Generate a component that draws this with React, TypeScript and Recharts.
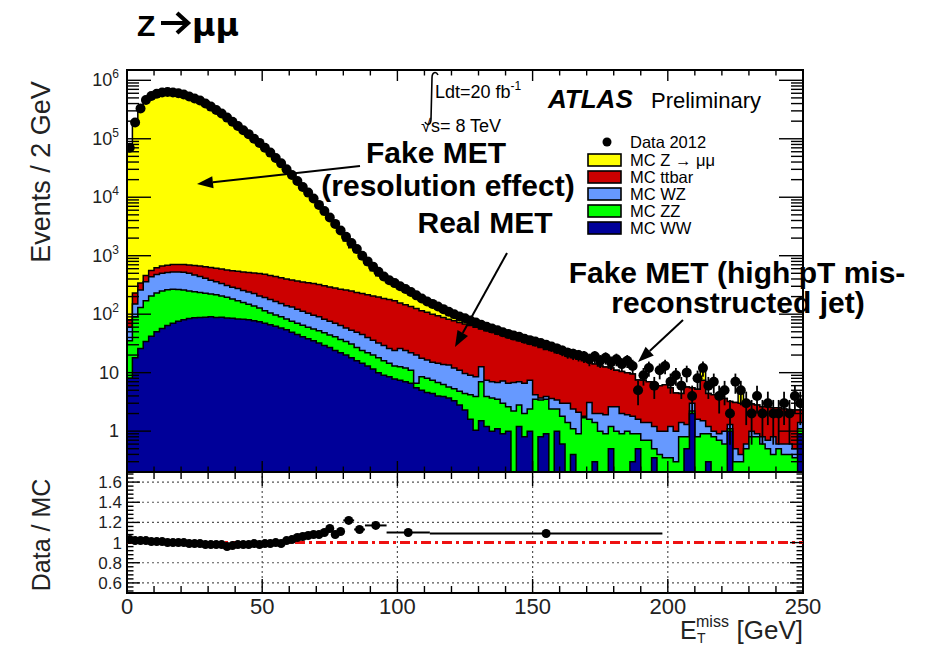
import React from 'react';
import {
  ComposedChart, Area, Scatter, XAxis, YAxis, ErrorBar, ReferenceLine, ReferenceArea,
} from 'recharts';

/* ───────── Data: events / 2 GeV, bins 0-2, 2-4, … 248-250 GeV ───────── */

const BIN_WIDTH = 2;

const mcWW = [
  8, 18, 26, 34, 42, 50, 57, 64, 70, 76, 80, 84, 87, 88, 89, 90, 88, 89, 86, 85,
  83, 82, 80, 77, 74, 70, 66, 62, 58, 54, 49, 45, 41, 38, 35, 32, 29, 27, 24, 22,
  20, 18, 16, 14.5, 13, 11.5, 10, 9, 8.5, 7.8,
  7.4, 7.0, 6.6, 5.5, 5.0, 4.6, 4.4, 4.0, 3.9, 3.7,
  3.3, 2.8, 2.3, 1.6, 1.04, 1.5, 1.2, 1.0, 1.1, 0.9,
  1.0, 0, 1.2, 0.8, 1.0, 0, 0.8, 0.9, 0, 1.0,
  0.6, 0, 0.4, 0, 0, 0, 0.3, 0, 0, 0.5,
  0, 0, 0, 0.3, 0.5, 0, 0, 0.35, 0, 0,
  0, 0, 0, 0.5, 2.0, 0, 0, 0.3, 0, 0,
  0, 1.0, 0, 0, 0, 0, 0, 0, 0, 0,
  0, 0, 0, 0, 0.9,
];

const mcZZ = [
  27, 72, 104, 136, 163, 180, 193, 198, 196, 189, 180, 166, 155, 148, 139, 132, 126, 116, 109, 97,
  87, 76, 68, 61, 54, 45, 39, 35, 32, 29, 27, 25, 24, 22, 21, 20, 19, 17, 17, 15,
  14, 13, 11, 9.5, 9, 8.5, 8, 7, 6, 5.2,
  5.2, 5.0, 4.4, 1.1, 3.5, 3.4, 3.0, 2.8, 2.4, 2.0,
  2.0, 2.0, 2.1, 2.6, 2.86, 5.5, 2.7, 2.7, 2.4, 2.1,
  1.6, 2.2, 1.6, 1.2, 1.4, 3.5, 2.6, 2.6, 2.4, 1.4,
  1.2, 1.4, 0.7, 0.9, 1.7, 1.6, 1.1, 1.0, 0.9, 0.7,
  1.0, 0.9, 1.0, 0.6, 0.4, 0.7, 0.7, 0.15, 0.4, 0.35,
  0.35, 0.3, 0.8, 0.3, 0.2, 0.8, 0.9, 0.6, 0.8, 0.7,
  0.6, 0.1, 0.3, 0.3, 0.5, 0.8, 0.8, 0.6, 0.5, 0.4,
  0.5, 0.4, 0.4, 0.35, 0.2,
];

const mcWZ = [
  25, 60, 130, 190, 230, 245, 250, 253, 259, 260, 260, 250, 228, 204, 182, 158, 146, 130, 115, 108,
  105, 97, 92, 87, 77, 77, 73, 68, 62, 57, 57, 52, 47, 44, 40, 38, 34, 32, 29, 27,
  24, 22, 22, 21, 18, 16, 14, 13, 11.5, 11,
  13.4, 12, 11, 13.4, 9.2, 8.5, 7.6, 7.7, 7.5, 7.8,
  6.7, 6.2, 5.3, 4.8, 4.6, 5.6, 3.5, 3.3, 3.3, 4.2,
  4.0, 4.6, 4.2, 4.6, 5.0, 0.7, 0.3, 0.4, 1.2, 1.0,
  1.2, 1.6, 1.3, 1.2, 0.1, 1.5, 0.6, 1.0, 1.0, 1.4,
  1.6, 1.1, 0.9, 0.9, 0.7, 0.7, 0.7, 0.7, 0.6, 0.65,
  0.85, 0.7, 0.6, 0.5, 0.8, 0.8, 0.6, 0.3, 0.2, 0.2,
  0.4, 0.2, 0.2, 0.1, 0.1, 0.2, 0.1, 0.2, 0.2, 0.4,
  0.1, 0.2, 0.2, 0.15, 0.3,
];

const mcTtbar = [
  20, 80, 80, 100, 125, 145, 165, 175, 180, 185, 185, 195, 210, 225, 235, 250, 250, 255, 260, 265,
  265, 270, 275, 280, 290, 288, 282, 275, 268, 260, 252, 248, 243, 241, 239, 232, 223, 216, 210, 204,
  200, 195, 186, 180, 175, 169, 164, 157, 152, 146,
  129, 121, 113, 105, 97.3, 91.5, 85, 79.5, 74.2, 68.5,
  65, 61, 58.3, 55, 51.5, 43.4, 44.6, 42, 39.2, 35.8,
  33.4, 31.2, 28, 26.4, 23.6, 24.8, 23.3, 21.1, 20.4, 18.6,
  18, 16, 15.6, 14.9, 14.2, 11.9, 12, 11, 10.6, 9.4,
  8.4, 8.5, 8.1, 7.7, 5.9, 6.0, 5.6, 5.3, 5.0, 5.2,
  4.3, 3.5, 3.0, 4.4, 2.5, 3.6, 5.9, 3.2, 3.2, 3.1,
  2.6, 1.9, 2.6, 2.6, 2.4, 1.9, 1.9, 1.8, 1.9, 1.7,
  1.9, 1.8, 1.7, 1.8, 0.9,
];

const mcZmumu = [
  68500, 186000, 326000, 455000, 534000, 583500, 613000, 623000, 613000, 593000,
  569000, 529000, 489000, 449000, 399000, 361600, 315700, 274900, 239000, 198400,
  167800, 142400, 120700, 100500, 85400, 70200, 58100, 47000, 37600, 29000,
  22700, 17700, 13800, 10750, 8380, 6400, 4780, 3730, 2960, 2160,
  1520, 1115, 895, 660, 485, 350, 257, 207, 167, 139,
  120, 100, 82, 66, 54, 44, 36, 29, 23, 18,
  14, 11, 9, 7, 5.5, 4.5, 3.5, 3, 2.5, 2,
  1.8, 1.5, 1.3, 1.1, 1.0, 0.8, 2, 0.6, 0.5, 0.4,
  0.3, 0.3, 0, 0, 0, 0, 0, 0, 0, 0,
  0, 0, 0, 0, 0, 0, 0, 0, 0, 0,
  0, 0, 0, 0, 0, 0, 5, 0, 0, 0,
  0, 0, 0, 2, 0, 0, 0, 0, 0, 0,
  0, 0, 0, 0, 0,
];

const data2012 = [
  70000, 190000, 330000, 460000, 540000, 590000, 620000, 630000, 620000, 600000,
  570000, 530000, 490000, 450000, 400000, 355000, 310000, 270000, 230000, 195000,
  165000, 140000, 120000, 100000, 85000, 70000, 58000, 47000, 38000, 30000,
  24000, 19000, 15000, 12000, 9500, 7400, 5800, 4500, 3500, 2700,
  2100, 1650, 1300, 1000, 800, 650, 530, 440, 380, 340,
  300, 270, 240, 210, 185, 165, 150, 135, 122, 110,
  100, 91, 85, 78, 72, 66, 61, 57, 53, 49,
  46, 43, 41, 38, 36, 34, 32, 30, 28, 26,
  24, 22, 21, 20, 19, 17, 19, 16, 18, 15,
  17, 14, 16, 13, 5, 9, 12, 6, 11, 13,
  7, 9, 6, 10, 4, 8, 12, 6, 7, 4,
  5, 2, 7, 5, 3, 2, 4, 2, 3, 2,
  2, 3, 2, 4, 3,
];

/* ratio panel: variable-width bins */
const ratioCenter = [
  1, 3, 5, 7, 9, 11, 13, 15, 17, 19, 21, 23, 25, 27, 29, 31, 33, 35, 37, 39,
  41, 43, 45, 47, 49, 51, 53, 55, 57, 59, 61, 63, 65, 67, 69, 71, 73, 75, 77, 79,
  82, 86, 92, 104, 155,
];
const ratioHalfWidth = [
  1, 1, 1, 1, 1, 1, 1, 1, 1, 1, 1, 1, 1, 1, 1, 1, 1, 1, 1, 1,
  1, 1, 1, 1, 1, 1, 1, 1, 1, 1, 1, 1, 1, 1, 1, 1, 1, 1, 1, 1,
  2, 2, 4, 8, 43,
];
const ratioValue = [
  1.03, 1.02, 1.02, 1.02, 1.01, 1.01, 1.01, 1.0, 1.0, 1.0, 1.0, 0.99, 0.99, 0.99, 0.98, 0.98, 0.98, 0.98, 0.96, 0.97,
  0.98, 0.98, 0.98, 0.99, 0.98, 0.99, 0.99, 1.0, 0.99, 1.02, 1.03, 1.05, 1.06, 1.07, 1.08, 1.08, 1.10, 1.14, 1.08, 1.11,
  1.22, 1.13, 1.17, 1.10, 1.09,
];
const ratioError = [
  0.004, 0.003, 0.003, 0.003, 0.003, 0.003, 0.003, 0.003, 0.003, 0.003, 0.003, 0.003, 0.003, 0.003, 0.003,
  0.003, 0.003, 0.003, 0.003, 0.003, 0.003, 0.003, 0.003, 0.004, 0.004, 0.004, 0.005, 0.005, 0.006, 0.006,
  0.007, 0.008, 0.008, 0.009, 0.01, 0.011, 0.012, 0.014, 0.015, 0.016,
  0.015, 0.018, 0.016, 0.015, 0.015,
];

const xMajorTicks = [0, 50, 100, 150, 200, 250];
const xGridLines = [50, 100, 150, 200];
const ratioMajorTicks = [0.6, 0.8, 1, 1.2, 1.4, 1.6];
const ratioGridLines = [0.6, 0.8, 1.2, 1.4, 1.6];

const legendItems = [
  { label: 'MC Z \u2192 \u03bc\u03bc', color: '#ffff00' },
  { label: 'MC ttbar', color: '#cc0000' },
  { label: 'MC WZ', color: '#6699ff' },
  { label: 'MC ZZ', color: '#00ff00' },
  { label: 'MC WW', color: '#000099' },
];

/* ───────── Layout ───────── */

const W = 927;
const H = 648;
const PLOT_LEFT = 127;
const PLOT_W = 676;
const UPPER_TOP = 70;
const UPPER_H = 402;
const RATIO_DIV_TOP = 460;
const RATIO_TOP = 12;
const RATIO_H = 121;
const Y_MIN = 0.2;
const Y_MAX = 1.5e6;
const FONT = '"Liberation Sans", Arial, Helvetica, sans-serif';

/* ───────── Derived tables ───────── */

const clampLog = (v: number) => Math.max(v, Y_MIN);

const histRows = Array.from({ length: mcWW.length + 1 }, (_, i) => {
  const j = Math.min(i, mcWW.length - 1);
  const ww = mcWW[j];
  const zz = ww + mcZZ[j];
  const wz = zz + mcWZ[j];
  const tt = wz + mcTtbar[j];
  const all = tt + mcZmumu[j];
  return { x: i * BIN_WIDTH, ww: clampLog(ww), zz: clampLog(zz), wz: clampLog(wz), tt: clampLog(tt), all: clampLog(all) };
});

const dataPoints = data2012
  .map((n, i) => ({ x: i * BIN_WIDTH + BIN_WIDTH / 2, y: n, err: [Math.min(Math.sqrt(n), n - Y_MIN), Math.sqrt(n)] }))
  .filter(p => p.y > 0);

const ratioPoints = ratioCenter.map((c, i) => ({ x: c, y: ratioValue[i], xerr: ratioHalfWidth[i], yerr: ratioError[i] }));

const xTicks = Array.from({ length: 26 }, (_, i) => i * 10);

const logTicks: number[] = [];
for (let e = -1; e <= 6; e++) {
  for (let m = 1; m <= 9; m++) {
    const v = m * Math.pow(10, e);
    if (v >= Y_MIN - 1e-9 && v <= Y_MAX) logTicks.push(v);
  }
}

const ratioTicks = Array.from({ length: 30 }, (_, i) => +((13 + i) * 0.04).toFixed(2));

/* ───────── Tick renderers ───────── */

function LogYTick({ x, y, payload }: any) {
  const v = payload.value as number;
  const exp = Math.round(Math.log10(v));
  const major = Math.abs(v - Math.pow(10, exp)) < 1e-6 * v;
  const len = major ? 24 : 12;
  return (
    <g>
      <line x1={x} x2={x + len} y1={y} y2={y} stroke="#000" strokeWidth={1.4} />
      <line x1={x + PLOT_W} x2={x + PLOT_W - len} y1={y} y2={y} stroke="#000" strokeWidth={1.4} />
      {major && (
        <text x={x - 8} y={y + 6} textAnchor="end" fontSize={18} fontFamily={FONT} fill="#222">
          {exp === 0 ? '1' : exp === 1 ? '10' : <>10<tspan dy={-8} fontSize={12}>{exp}</tspan></>}
        </text>
      )}
    </g>
  );
}

function UpperXTick({ x, y, payload }: any) {
  const len = xMajorTicks.includes(payload.value) ? 11 : 5.5;
  return (
    <g>
      <line x1={x} x2={x} y1={y} y2={y - len} stroke="#000" strokeWidth={1.4} />
      <line x1={x} x2={x} y1={y - UPPER_H} y2={y - UPPER_H + len} stroke="#000" strokeWidth={1.4} />
    </g>
  );
}

function RatioXTick({ x, y, payload }: any) {
  const major = xMajorTicks.includes(payload.value);
  const len = major ? 14 : 7;
  return (
    <g>
      <line x1={x} x2={x} y1={y} y2={y - len} stroke="#000" strokeWidth={1.4} />
      <line x1={x} x2={x} y1={y - RATIO_H} y2={y - RATIO_H + len} stroke="#000" strokeWidth={1.4} />
      {major && (
        <text x={x} y={y + 21} textAnchor="middle" fontSize={22} fontFamily={FONT} fill="#222">
          {payload.value}
        </text>
      )}
    </g>
  );
}

function RatioYTick({ x, y, payload }: any) {
  const v = payload.value as number;
  const major = ratioMajorTicks.some(t => Math.abs(t - v) < 1e-6);
  const len = major ? 13 : 6.5;
  return (
    <g>
      <line x1={x} x2={x + len} y1={y} y2={y} stroke="#000" strokeWidth={1.4} />
      <line x1={x + PLOT_W} x2={x + PLOT_W - len} y1={y} y2={y} stroke="#000" strokeWidth={1.4} />
      {major && (
        <text x={x - 5} y={y + 6} textAnchor="end" fontSize={17} fontFamily={FONT} fill="#222">
          {String(v)}
        </text>
      )}
    </g>
  );
}

const dot = (r: number) => (p: any) => <circle cx={p.cx} cy={p.cy} r={r} fill="#000" />;

/* ───────── Annotation helpers ───────── */

function Arrow({ from, to }: { from: [number, number]; to: [number, number] }) {
  const [x1, y1] = from;
  const [x2, y2] = to;
  const a = Math.atan2(y2 - y1, x2 - x1);
  const L = 16;
  const hw = 6;
  const bx = x2 - L * Math.cos(a);
  const by = y2 - L * Math.sin(a);
  const px = -Math.sin(a) * hw;
  const py = Math.cos(a) * hw;
  return (
    <g>
      <line x1={x1} y1={y1} x2={bx} y2={by} stroke="#000" strokeWidth={2} />
      <polygon points={`${x2},${y2} ${bx + px},${by + py} ${bx - px},${by - py}`} fill="#000" />
    </g>
  );
}

/* ───────── Charts ───────── */

function UpperPanel() {
  return (
    <ComposedChart
      width={W}
      height={480}
      data={histRows}
      margin={{ top: UPPER_TOP, right: W - PLOT_LEFT - PLOT_W, bottom: 7, left: PLOT_LEFT - 1 }}
    >
      <Area type="stepAfter" dataKey="all" stroke="#000" strokeWidth={1.5} fill="#ffff00" fillOpacity={1} baseValue={Y_MIN} isAnimationActive={false} dot={false} activeDot={false} />
      <Area type="stepAfter" dataKey="tt" stroke="#000" strokeWidth={1.5} fill="#cc0000" fillOpacity={1} baseValue={Y_MIN} isAnimationActive={false} dot={false} activeDot={false} />
      <Area type="stepAfter" dataKey="wz" stroke="#000" strokeWidth={1.5} fill="#6699ff" fillOpacity={1} baseValue={Y_MIN} isAnimationActive={false} dot={false} activeDot={false} />
      <Area type="stepAfter" dataKey="zz" stroke="#000" strokeWidth={1.5} fill="#00ff00" fillOpacity={1} baseValue={Y_MIN} isAnimationActive={false} dot={false} activeDot={false} />
      <Area type="stepAfter" dataKey="ww" stroke="#000" strokeWidth={1.5} fill="#000099" fillOpacity={1} baseValue={Y_MIN} isAnimationActive={false} dot={false} activeDot={false} />
      <Scatter data={dataPoints} dataKey="y" fill="#000" shape={dot(5)} isAnimationActive={false}>
        <ErrorBar dataKey="err" direction="y" width={0} stroke="#000" strokeWidth={1.8} />
      </Scatter>
      <ReferenceArea x1={0} x2={250} y1={Y_MIN} y2={Y_MAX} fill="none" stroke="#000" strokeWidth={2} />
      <XAxis
        dataKey="x" type="number" domain={[0, 250]} allowDataOverflow ticks={xTicks} interval={0}
        height={1} tickSize={0} tickMargin={0} axisLine={false} tickLine={false} tick={UpperXTick}
      />
      <YAxis
        type="number" scale="log" domain={[Y_MIN, Y_MAX]} allowDataOverflow ticks={logTicks} interval={0}
        width={1} tickSize={0} tickMargin={0} axisLine={false} tickLine={false} tick={LogYTick}
      />
    </ComposedChart>
  );
}

function RatioPanel() {
  return (
    <ComposedChart
      width={W}
      height={188}
      data={ratioPoints}
      margin={{ top: RATIO_TOP, right: W - PLOT_LEFT - PLOT_W, bottom: 188 - RATIO_TOP - RATIO_H - 1, left: PLOT_LEFT - 1 }}
    >
      {ratioGridLines.map(v => (
        <ReferenceLine key={`h${v}`} y={v} stroke="#555" strokeWidth={1.2} strokeDasharray="2 3" />
      ))}
      {xGridLines.map(v => (
        <ReferenceLine key={`v${v}`} x={v} stroke="#555" strokeWidth={1.2} strokeDasharray="2 3" />
      ))}
      <ReferenceLine y={1} stroke="#ee1111" strokeWidth={3} strokeDasharray="10 4 3 4" />
      <Scatter data={ratioPoints} dataKey="y" fill="#000" shape={dot(4.5)} isAnimationActive={false}>
        <ErrorBar dataKey="xerr" direction="x" width={0} stroke="#000" strokeWidth={2} />
        <ErrorBar dataKey="yerr" direction="y" width={0} stroke="#000" strokeWidth={2} />
      </Scatter>
      <ReferenceArea x1={0} x2={250} y1={0.5} y2={1.7} fill="none" stroke="#000" strokeWidth={2} />
      <XAxis
        dataKey="x" type="number" domain={[0, 250]} allowDataOverflow ticks={xTicks} interval={0}
        height={1} tickSize={0} tickMargin={0} axisLine={false} tickLine={false} tick={RatioXTick}
      />
      <YAxis
        type="number" domain={[0.5, 1.7]} allowDataOverflow ticks={ratioTicks} interval={0}
        width={1} tickSize={0} tickMargin={0} axisLine={false} tickLine={false} tick={RatioYTick}
      />
    </ComposedChart>
  );
}

function Overlay() {
  const legendX = 588;
  const legendRows = [160, 177, 194, 211, 228];
  return (
    <svg width={W} height={H} style={{ position: 'absolute', left: 0, top: 0, pointerEvents: 'none' }} fontFamily={FONT}>
      {/* title */}
      <text x={137} y={36} fontSize={30} fontWeight="bold">Z</text>
      <path d="M161,23 L187,23 M177,13 L188,23 L177,33" fill="none" stroke="#000" strokeWidth={4.2} strokeLinejoin="miter" />
      <text x={192} y={36} fontSize={32} fontWeight="bold" fontFamily='"DejaVu Sans", sans-serif'>{'\u03bc\u03bc'}</text>

      {/* axis titles */}
      <text transform="translate(50,172) rotate(-90)" textAnchor="middle" fontSize={27} fill="#222">Events / 2 GeV</text>
      <text transform="translate(50,535) rotate(-90)" textAnchor="middle" fontSize={25} fill="#222">Data / MC</text>
      <text x={680} y={639} fontSize={25} fill="#222">E</text>
      <text x={697} y={643} fontSize={14} fill="#222">T</text>
      <text x={696} y={627} fontSize={16} fill="#222">miss</text>
      <text x={803} y={639} fontSize={26} fill="#222" textAnchor="end">[GeV]</text>

      {/* luminosity / energy */}
      <path d="M438,75 C436,71 432,72 432,78 L431,119 C431,125 427,126 425,122" fill="none" stroke="#000" strokeWidth={1.6} />
      <text x={435} y={98} fontSize={18}>
        Ldt=20 fb<tspan dy={-8} fontSize={12}>-1</tspan>
      </text>
      <text x={421} y={132} fontSize={18}>{'\u221a'}s= 8 TeV</text>

      {/* ATLAS label */}
      <text x={548} y={108} fontSize={26} fontWeight="bold" fontStyle="italic">ATLAS</text>
      <text x={651} y={108} fontSize={22}>Preliminary</text>

      {/* legend */}
      <circle cx={607} cy={142} r={4.5} fill="#000" />
      <text x={630} y={148} fontSize={16.5}>Data 2012</text>
      {legendItems.map((it, i) => (
        <g key={it.label}>
          <rect x={legendX} y={legendRows[i] - 6} width={33} height={12} fill={it.color} stroke="#000" strokeWidth={1.6} />
          <text x={630} y={legendRows[i] + 6} fontSize={16.5}>{it.label}</text>
        </g>
      ))}

      {/* annotations */}
      <g fontWeight="bold" fontSize={30} textAnchor="middle">
        <text x={436} y={163}>Fake MET</text>
        <text x={448} y={196}>(resolution effect)</text>
        <text x={485} y={233}>Real MET</text>
        <text x={737} y={283}>Fake MET (high pT mis-</text>
        <text x={738} y={313}>reconstructed jet)</text>
      </g>
      <Arrow from={[360, 166]} to={[197, 184]} />
      <Arrow from={[507, 253]} to={[455, 347]} />
      <Arrow from={[683, 320]} to={[638, 362]} />
    </svg>
  );
}

export default function App() {
  return (
    <div style={{ position: 'absolute', left: 0, top: 0, width: W, height: H, background: '#fff', fontFamily: FONT }}>
      <div style={{ position: 'absolute', left: 0, top: 0 }}>
        <UpperPanel />
      </div>
      <div style={{ position: 'absolute', left: 0, top: RATIO_DIV_TOP }}>
        <RatioPanel />
      </div>
      <Overlay />
    </div>
  );
}
